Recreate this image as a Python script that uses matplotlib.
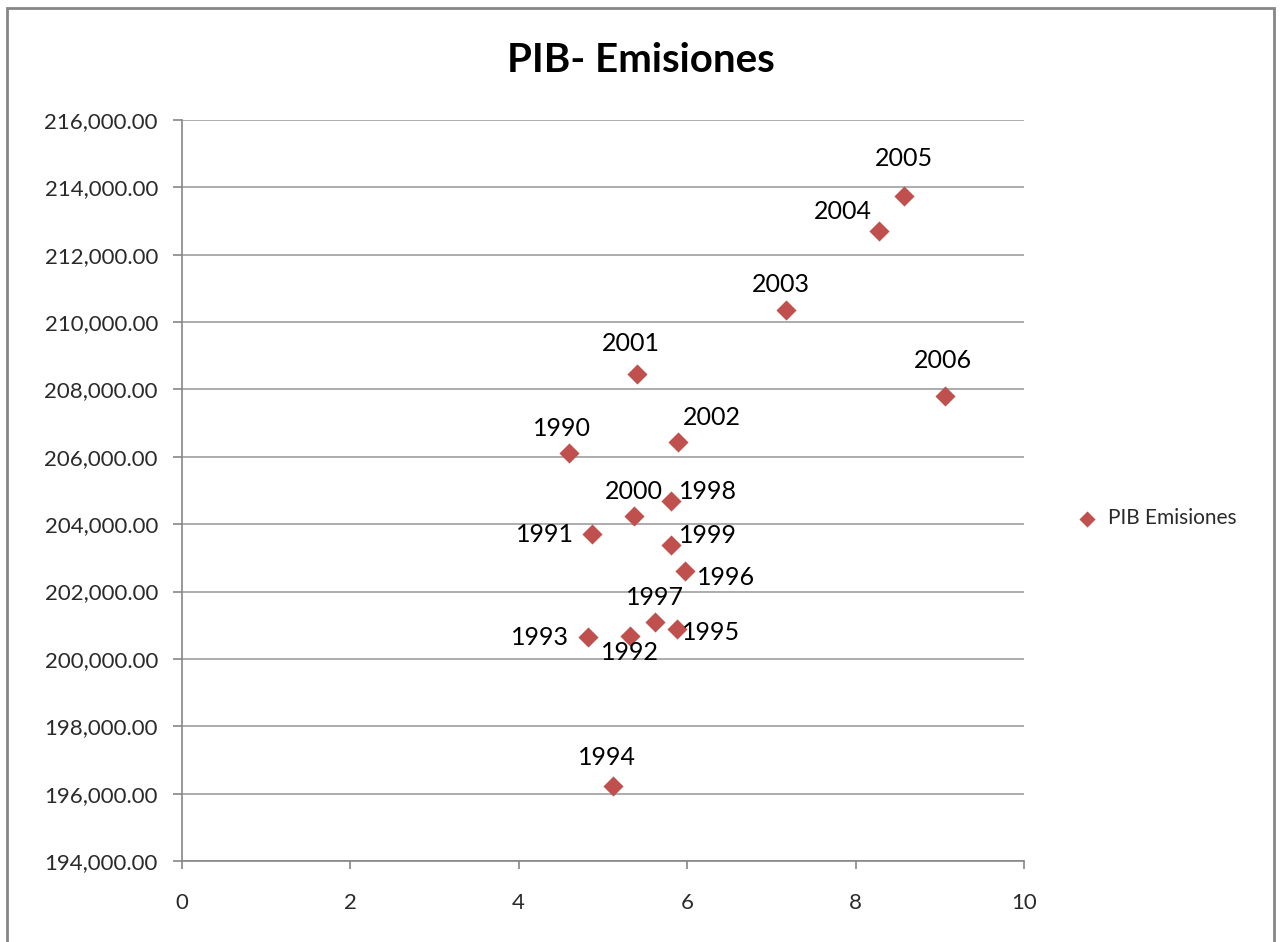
import matplotlib.pyplot as plt
from matplotlib.patches import Rectangle

plt.rcParams['font.family'] = ['Lato', 'DejaVu Sans']

# datos
years = ['1990', '1991', '1992', '1993', '1994', '1995', '1996', '1997', '1998',
         '1999', '2000', '2001', '2002', '2003', '2004', '2005', '2006']
pib = [4.60, 4.87, 5.32, 4.82, 5.12, 5.88, 5.98, 5.62, 5.81,
       5.81, 5.37, 5.41, 5.89, 7.18, 8.28, 8.58, 9.06]
emisiones = [206100, 203700, 200680, 200650, 196230, 200890, 202610, 201090, 204690,
             203380, 204240, 208460, 206440, 210360, 212700, 213740, 207800]

# desplazamiento de cada etiqueta (pixeles)
label_dx = [-7, -47, 0, -48, -6, 34, 41, 0, 37, 37, 0, -6, 34, -6, -36, 0, -2]
label_dy = [25, 0, -16, 0, 28, -4, -7, 25, 9, 10, 25, 30, 24, 25, 20, 38, 36]

red = '#C0504D'
grey = '#868686'

fig = plt.figure(figsize=(12.82, 9.42), dpi=100)
ax = fig.add_axes([181.5 / 1282, 1 - 861 / 942, (1024 - 181.5) / 1282, (861 - 120) / 942])

ax.scatter(pib, emisiones, marker='D', s=105, color=red, zorder=3, label='PIB Emisiones',
           linewidths=0)

for yr, x, y, dx, dy in zip(years, pib, emisiones, label_dx, label_dy):
    ax.annotate(yr, (x, y), xytext=(dx * 0.72, dy * 0.72), textcoords='offset points',
                ha='center', va='center', fontsize=18, color='black', zorder=4)

ax.set_xlim(0, 10)
ax.set_ylim(194000, 216000)
ax.set_xticks(range(0, 11, 2))
ax.set_yticks(range(194000, 216001, 2000))
ax.yaxis.set_major_formatter(plt.FuncFormatter(lambda v, p: f'{v:,.2f}'))

ax.grid(axis='y', color=grey, linewidth=1.2, alpha=0.8)
ax.set_axisbelow(True)
for s in ['top', 'right']:
    ax.spines[s].set_visible(False)
for s in ['left', 'bottom']:
    ax.spines[s].set_color(grey)
    ax.spines[s].set_linewidth(1.2)

ax.tick_params(axis='y', length=6.5, width=1.2, color=grey, pad=10.5, labelsize=16,
               labelcolor='#2a2a2a')
ax.tick_params(axis='x', length=6, width=1.2, color=grey, pad=17, labelsize=16,
               labelcolor='#2a2a2a')

fig.text(641 / 1282, 1 - 60 / 942, 'PIB- Emisiones', ha='center', va='center',
         fontsize=29, fontweight='bold')

leg = ax.legend(loc='center left', bbox_to_anchor=(1047 / 1282, 1 - 518 / 942),
                bbox_transform=fig.transFigure, frameon=False, fontsize=15,
                handletextpad=0.05, markerscale=0.8)
for t in leg.get_texts():
    t.set_color('#2a2a2a')

fig.patches.append(Rectangle((7 / 1282, -0.05), (1274 - 7) / 1282, 1.05 - 8 / 942,
                             transform=fig.transFigure, fill=False,
                             edgecolor=grey, linewidth=2))

fig.savefig('out.png', dpi=100)
